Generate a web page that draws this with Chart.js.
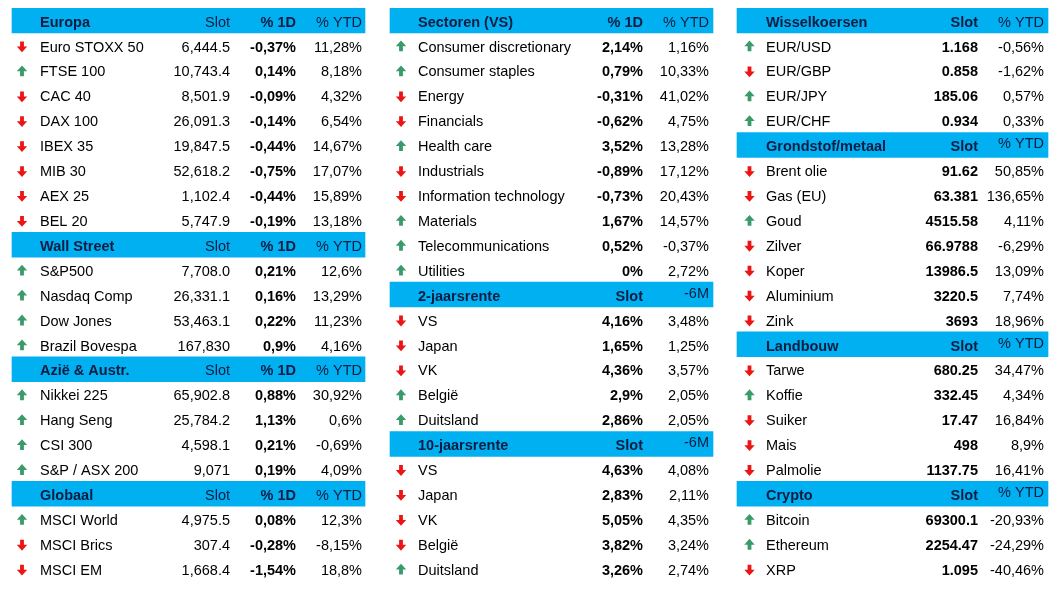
<!DOCTYPE html>
<html>
<head>
<meta charset="utf-8">
<script src="https://cdn.jsdelivr.net/npm/chart.js@4/dist/chart.umd.min.js"></script>
<style>
  html, body { margin: 0; padding: 0; background: #ffffff; }
  #wrap { width: 1063px; height: 603px; position: relative; }
</style>
</head>
<body>
<div id="wrap"><canvas id="c"></canvas></div>
<script>
// ---------- DATA ----------
const europaHead = ['Europa', 'Slot', '% 1D', '% YTD'];
const europaNames = ['Euro STOXX 50', 'FTSE 100', 'CAC 40', 'DAX 100', 'IBEX 35', 'MIB 30', 'AEX 25', 'BEL 20'];
const europaDir = ['d', 'u', 'd', 'd', 'd', 'd', 'd', 'd'];
const europaSlot = ['6,444.5', '10,743.4', '8,501.9', '26,091.3', '19,847.5', '52,618.2', '1,102.4', '5,747.9'];
const europaDay = ['-0,37%', '0,14%', '-0,09%', '-0,14%', '-0,44%', '-0,75%', '-0,44%', '-0,19%'];
const europaYtd = ['11,28%', '8,18%', '4,32%', '6,54%', '14,67%', '17,07%', '15,89%', '13,18%'];

const wallHead = ['Wall Street', 'Slot', '% 1D', '% YTD'];
const wallNames = ['S&P500', 'Nasdaq Comp', 'Dow Jones', 'Brazil Bovespa'];
const wallDir = ['u', 'u', 'u', 'u'];
const wallSlot = ['7,708.0', '26,331.1', '53,463.1', '167,830'];
const wallDay = ['0,21%', '0,16%', '0,22%', '0,9%'];
const wallYtd = ['12,6%', '13,29%', '11,23%', '4,16%'];

const azieHead = ['Azië & Austr.', 'Slot', '% 1D', '% YTD'];
const azieNames = ['Nikkei 225', 'Hang Seng', 'CSI 300', 'S&P / ASX 200'];
const azieDir = ['u', 'u', 'u', 'u'];
const azieSlot = ['65,902.8', '25,784.2', '4,598.1', '9,071'];
const azieDay = ['0,88%', '1,13%', '0,21%', '0,19%'];
const azieYtd = ['30,92%', '0,6%', '-0,69%', '4,09%'];

const globaalHead = ['Globaal', 'Slot', '% 1D', '% YTD'];
const globaalNames = ['MSCI World', 'MSCI Brics', 'MSCI EM'];
const globaalDir = ['u', 'd', 'd'];
const globaalSlot = ['4,975.5', '307.4', '1,668.4'];
const globaalDay = ['0,08%', '-0,28%', '-1,54%'];
const globaalYtd = ['12,3%', '-8,15%', '18,8%'];

const sectorHead = ['Sectoren (VS)', '% 1D', '% YTD'];
const sectorNames = ['Consumer discretionary', 'Consumer staples', 'Energy', 'Financials', 'Health care', 'Industrials', 'Information technology', 'Materials', 'Telecommunications', 'Utilities'];
const sectorDir = ['u', 'u', 'd', 'd', 'u', 'd', 'd', 'u', 'u', 'u'];
const sectorDay = ['2,14%', '0,79%', '-0,31%', '-0,62%', '3,52%', '-0,89%', '-0,73%', '1,67%', '0,52%', '0%'];
const sectorYtd = ['1,16%', '10,33%', '41,02%', '4,75%', '13,28%', '17,12%', '20,43%', '14,57%', '-0,37%', '2,72%'];

const rente2Head = ['2-jaarsrente', 'Slot', '-6M'];
const rente2Names = ['VS', 'Japan', 'VK', 'België', 'Duitsland'];
const rente2Dir = ['d', 'd', 'd', 'u', 'u'];
const rente2Slot = ['4,16%', '1,65%', '4,36%', '2,9%', '2,86%'];
const rente2Prev = ['3,48%', '1,25%', '3,57%', '2,05%', '2,05%'];

const rente10Head = ['10-jaarsrente', 'Slot', '-6M'];
const rente10Names = ['VS', 'Japan', 'VK', 'België', 'Duitsland'];
const rente10Dir = ['d', 'd', 'd', 'd', 'u'];
const rente10Slot = ['4,63%', '2,83%', '5,05%', '3,82%', '3,26%'];
const rente10Prev = ['4,08%', '2,11%', '4,35%', '3,24%', '2,74%'];

const fxHead = ['Wisselkoersen', 'Slot', '% YTD'];
const fxNames = ['EUR/USD', 'EUR/GBP', 'EUR/JPY', 'EUR/CHF'];
const fxDir = ['u', 'd', 'u', 'u'];
const fxSlot = ['1.168', '0.858', '185.06', '0.934'];
const fxYtd = ['-0,56%', '-1,62%', '0,57%', '0,33%'];

const grondHead = ['Grondstof/metaal', 'Slot', '% YTD'];
const grondNames = ['Brent olie', 'Gas (EU)', 'Goud', 'Zilver', 'Koper', 'Aluminium', 'Zink'];
const grondDir = ['d', 'd', 'u', 'd', 'd', 'd', 'd'];
const grondSlot = ['91.62', '63.381', '4515.58', '66.9788', '13986.5', '3220.5', '3693'];
const grondYtd = ['50,85%', '136,65%', '4,11%', '-6,29%', '13,09%', '7,74%', '18,96%'];

const landHead = ['Landbouw', 'Slot', '% YTD'];
const landNames = ['Tarwe', 'Koffie', 'Suiker', 'Mais', 'Palmolie'];
const landDir = ['d', 'u', 'd', 'd', 'd'];
const landSlot = ['680.25', '332.45', '17.47', '498', '1137.75'];
const landYtd = ['34,47%', '4,34%', '16,84%', '8,9%', '16,41%'];

const cryptoHead = ['Crypto', 'Slot', '% YTD'];
const cryptoNames = ['Bitcoin', 'Ethereum', 'XRP'];
const cryptoDir = ['u', 'u', 'd'];
const cryptoSlot = ['69300.1', '2254.47', '1.095'];
const cryptoYtd = ['-20,93%', '-24,29%', '-40,46%'];

// ---------- LAYOUT ----------
const ROWS = 23;
const FONT = '"Liberation Sans", Arial, sans-serif';
const FSIZE = 14.5;
const HEAD_BG = '#00b0f0';
const HEAD_FG = '#0c1c42';
const UP_COLOR = '#3a9a6a';
const DOWN_COLOR = '#ec1515';

const panels = [
  {
    x0: 12, x1: 365, arrowX: 22, textX: 40,
    cols: [230, 296, 362],
    colBold: [false, true, false],
    headBold: [true, false, true, false],
    sections: [
      { head: europaHead, names: europaNames, dir: europaDir, values: [europaSlot, europaDay, europaYtd] },
      { head: wallHead, names: wallNames, dir: wallDir, values: [wallSlot, wallDay, wallYtd] },
      { head: azieHead, names: azieNames, dir: azieDir, values: [azieSlot, azieDay, azieYtd] },
      { head: globaalHead, names: globaalNames, dir: globaalDir, values: [globaalSlot, globaalDay, globaalYtd] }
    ]
  },
  {
    x0: 390, x1: 713, arrowX: 401, textX: 418,
    cols: [643, 709],
    colBold: [true, false],
    headBold: [true, true, false],
    sections: [
      { head: sectorHead, names: sectorNames, dir: sectorDir, values: [sectorDay, sectorYtd] },
      { head: rente2Head, names: rente2Names, dir: rente2Dir, values: [rente2Slot, rente2Prev], raise: true },
      { head: rente10Head, names: rente10Names, dir: rente10Dir, values: [rente10Slot, rente10Prev], raise: true }
    ]
  },
  {
    x0: 737, x1: 1048, arrowX: 749.5, textX: 766,
    cols: [978, 1044],
    colBold: [true, false],
    headBold: [true, true, false],
    sections: [
      { head: fxHead, names: fxNames, dir: fxDir, values: [fxSlot, fxYtd] },
      { head: grondHead, names: grondNames, dir: grondDir, values: [grondSlot, grondYtd], raise: true },
      { head: landHead, names: landNames, dir: landDir, values: [landSlot, landYtd], raise: true },
      { head: cryptoHead, names: cryptoNames, dir: cryptoDir, values: [cryptoSlot, cryptoYtd], raise: true }
    ]
  }
];

// Build row tables per panel
panels.forEach(p => {
  p.rows = [];
  p.sections.forEach(s => {
    p.rows.push({ type: 'head', sec: s });
    s.names.forEach((n, i) => p.rows.push({ type: 'item', sec: s, i }));
  });
});

const rowLabels = Array.from({ length: ROWS }, (_, i) => 'r' + i);

const datasets = panels.map((p, pi) => ({
  label: 'panel' + pi,
  data: rowLabels.map((_, r) => (p.rows[r] && p.rows[r].type === 'head') ? [p.x0, p.x1] : null),
  backgroundColor: HEAD_BG,
  borderWidth: 0,
  borderSkipped: false,
  barPercentage: 1,
  categoryPercentage: 1,
  grouped: false
}));

// Up arrow (mirrored vertically for down): solid triangular head + thick shaft
function drawArrow(ctx, cx, cy, up) {
  ctx.save();
  ctx.translate(cx, cy);
  if (!up) ctx.scale(1, -1);
  ctx.fillStyle = up ? UP_COLOR : DOWN_COLOR;
  ctx.beginPath();
  ctx.moveTo(0, -5.6);
  ctx.lineTo(5.2, 0.2);
  ctx.lineTo(1.9, 0.2);
  ctx.lineTo(1.9, 5.2);
  ctx.lineTo(-1.9, 5.2);
  ctx.lineTo(-1.9, 0.2);
  ctx.lineTo(-5.2, 0.2);
  ctx.closePath();
  ctx.fill();
  ctx.restore();
}

const tablePlugin = {
  id: 'tableText',
  afterDatasetsDraw(chart) {
    const { ctx } = chart;
    const xs = chart.scales.x, ys = chart.scales.y;
    ctx.save();
    ctx.textBaseline = 'alphabetic';
    panels.forEach(p => {
      p.rows.forEach((row, r) => {
        const cy = ys.getPixelForValue(r);
        const base = cy + 6.2;
        const s = row.sec;
        if (row.type === 'head') {
          ctx.fillStyle = HEAD_FG;
          ctx.textAlign = 'left';
          ctx.font = (p.headBold[0] ? 'bold ' : '') + FSIZE + 'px ' + FONT;
          ctx.fillText(s.head[0], xs.getPixelForValue(p.textX), base);
          ctx.textAlign = 'right';
          const nCols = p.cols.length;
          for (let c = 0; c < nCols; c++) {
            const label = s.head[s.head.length - nCols + c];
            if (!label) continue;
            ctx.font = (p.headBold[c + 1] ? 'bold ' : '') + FSIZE + 'px ' + FONT;
            const yy = (s.raise && c === nCols - 1) ? base - 3 : base;
            ctx.fillText(label, xs.getPixelForValue(p.cols[c]), yy);
          }
        } else {
          const up = s.dir[row.i] === 'u';
          drawArrow(ctx, xs.getPixelForValue(p.arrowX), cy + (up ? 0.8 : 1.4), up);
          ctx.fillStyle = '#000000';
          ctx.textAlign = 'left';
          ctx.font = FSIZE + 'px ' + FONT;
          ctx.fillText(s.names[row.i], xs.getPixelForValue(p.textX), base);
          ctx.textAlign = 'right';
          s.values.forEach((arr, c) => {
            ctx.font = (p.colBold[c] ? 'bold ' : '') + FSIZE + 'px ' + FONT;
            ctx.fillText(arr[row.i], xs.getPixelForValue(p.cols[c]), base);
          });
        }
      });
    });
    ctx.restore();
  }
};

new Chart(document.getElementById('c'), {
  type: 'bar',
  data: { labels: rowLabels, datasets },
  options: {
    indexAxis: 'y',
    responsive: true,
    maintainAspectRatio: false,
    animation: false,
    layout: { padding: { top: 8, bottom: 22, left: 0, right: 0 } },
    plugins: { legend: { display: false }, tooltip: { enabled: false } },
    scales: {
      x: { type: 'linear', min: 0, max: 1063, display: false },
      y: { type: 'category', display: false, offset: true }
    }
  },
  plugins: [tablePlugin]
});
</script>
</body>
</html>
